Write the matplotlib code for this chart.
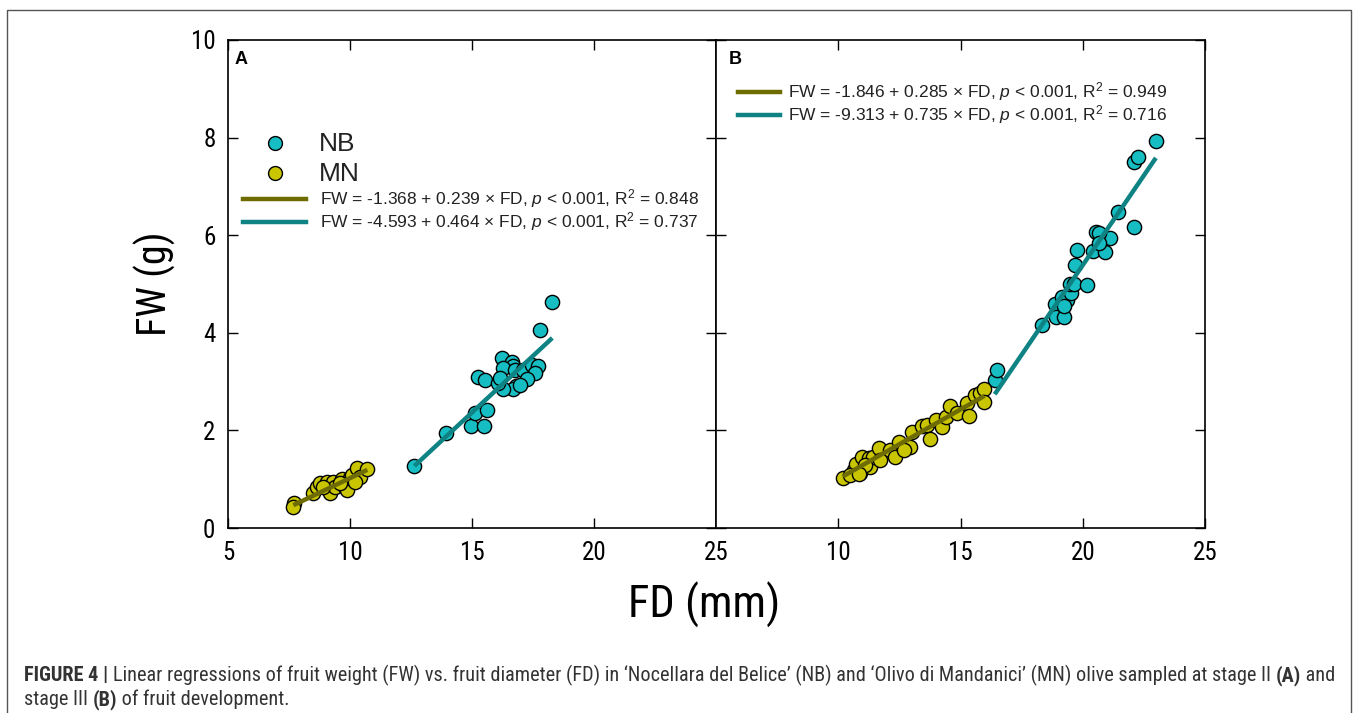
import matplotlib
matplotlib.use("Agg")
import matplotlib.pyplot as plt
from matplotlib import font_manager
from matplotlib.lines import Line2D

# ---------------- data ----------------
# Panel A (stage II)
nb_a_fd = [12.64, 13.92, 14.95, 15.51, 15.14, 15.60, 15.23, 15.53, 16.21, 16.65,
           16.69, 16.28, 16.76, 17.10, 17.44, 17.72, 17.58, 17.24, 16.80, 16.67,
           16.28, 16.08, 16.15, 16.97, 17.79, 18.29]
nb_a_fw = [1.27, 1.94, 2.08, 2.08, 2.36, 2.42, 3.09, 3.03, 3.48, 3.40,
           3.31, 3.27, 3.24, 3.24, 3.34, 3.31, 3.17, 3.05, 2.90, 2.84,
           2.84, 2.97, 3.07, 2.93, 4.06, 4.64]
mn_a_fd = [7.70, 7.68, 8.50, 8.66, 8.77, 9.04, 9.18, 9.32, 9.39, 9.66,
           9.80, 9.86, 10.00, 10.07, 10.27, 10.41, 10.71, 9.59, 8.90, 10.20]
mn_a_fw = [0.52, 0.44, 0.72, 0.85, 0.92, 0.95, 0.72, 0.95, 0.85, 1.00,
           0.85, 0.78, 1.02, 1.09, 1.22, 1.05, 1.21, 0.92, 0.85, 0.95]

# Panel B (stage III)
nb_b_fd = [16.40, 16.50, 18.35, 18.85, 18.93, 18.89, 19.24, 19.17, 19.37, 19.51,
           19.48, 19.64, 20.19, 19.67, 19.78, 20.43, 20.90, 21.12, 20.53, 20.67,
           20.67, 21.45, 22.08, 22.08, 22.27, 22.99, 19.24]
nb_b_fw = [3.03, 3.24, 4.15, 4.60, 4.41, 4.33, 4.32, 4.74, 4.67, 4.82,
           5.01, 5.00, 4.97, 5.39, 5.70, 5.68, 5.66, 5.94, 6.07, 6.05,
           5.83, 6.48, 6.16, 7.49, 7.60, 7.94, 4.54]
mn_b_fd = [10.19, 10.63, 10.74, 10.90, 10.97, 11.24, 11.28, 11.42, 11.65, 11.72,
           12.13, 12.34, 12.47, 12.95, 13.02, 13.43, 13.63, 13.77, 13.98, 14.25,
           14.39, 14.59, 14.86, 15.27, 15.34, 15.61, 15.79, 15.98, 15.98, 10.49,
           11.11, 12.67, 10.85]
mn_b_fw = [1.02, 1.19, 1.31, 1.12, 1.45, 1.43, 1.26, 1.46, 1.63, 1.39,
           1.60, 1.45, 1.77, 1.65, 1.97, 2.09, 2.11, 1.82, 2.21, 2.06,
           2.27, 2.50, 2.35, 2.56, 2.30, 2.73, 2.77, 2.85, 2.59, 1.09,
           1.29, 1.60, 1.11]

# regression coefficients: (intercept, slope, R2)
reg_mn_a = (-1.368, 0.239, 0.848)
reg_nb_a = (-4.593, 0.464, 0.737)
reg_mn_b = (-1.846, 0.285, 0.949)
reg_nb_b = (-9.313, 0.735, 0.716)

x_ticks_a = [5, 10, 15, 20, 25]
x_ticks_b = [10, 15, 20, 25]
y_ticks = [0, 2, 4, 6, 8, 10]
series_labels = ["NB", "MN"]

# ---------------- style ----------------
fl = font_manager.fontManager.ttflist
names = {f.name for f in fl}
REG = "Liberation Sans"
NARROW, NSTRETCH = REG, "normal"
if "Liberation Sans Narrow" in names:
    NARROW, NSTRETCH = "Liberation Sans Narrow", "normal"
elif "Arial Narrow" in names:
    NARROW, NSTRETCH = "Arial Narrow", "normal"
elif "Roboto Condensed" in names:
    NARROW, NSTRETCH = "Roboto Condensed", "normal"
else:
    for fam in ("Liberation Sans", "Noto Sans", "Open Sans", "Roboto", "DejaVu Sans"):
        if any(f.name == fam and str(f.stretch) in ("condensed", "semi-condensed", "500", "600")
               and f.weight in (400, "normal", "regular") for f in fl):
            NARROW, NSTRETCH = fam, "condensed"
            break
HAS_NARROW = not (NARROW == REG and NSTRETCH == "normal")
narrow_fp = dict(family=[NARROW, "DejaVu Sans"], fontstretch=NSTRETCH)

plt.rcParams["font.family"] = [REG, "DejaVu Sans"]
plt.rcParams["mathtext.fontset"] = "custom"
plt.rcParams["mathtext.rm"] = REG
plt.rcParams["mathtext.it"] = REG + ":italic"

C_NB = "#16BEC3"
C_MN = "#C9C500"
C_NB_LINE = "#0F8383"
C_MN_LINE = "#6E6C00"
TXT = "#222222"

W, H = 1358, 713
fig = plt.figure(figsize=(W / 100, H / 100), dpi=100)


def fx(x):
    return x / W


def fy(y):
    return 1 - y / H


axA = fig.add_axes([fx(228), fy(528), fx(716) - fx(228), fy(40) - fy(528)])
axB = fig.add_axes([fx(716), fy(528), fx(1205) - fx(716), fy(40) - fy(528)])


def eq(c):
    return (f"FW = {c[0]:.3f} + {c[1]:.3f} × FD, $\\mathit{{p}}$ < 0.001, "
            f"R$^{{2}}$ = {c[2]:.3f}")


def reg_line(ax, xs, c, color):
    x0, x1 = min(xs), max(xs)
    ax.plot([x0, x1], [c[0] + c[1] * x0, c[0] + c[1] * x1], color=color,
            lw=3.2, solid_capstyle="butt", zorder=3)


tick_size = 18 if HAS_NARROW else 16
for ax, nbx, nby, mnx, mny, rmn, rnb in [
        (axA, nb_a_fd, nb_a_fw, mn_a_fd, mn_a_fw, reg_mn_a, reg_nb_a),
        (axB, nb_b_fd, nb_b_fw, mn_b_fd, mn_b_fw, reg_mn_b, reg_nb_b)]:
    ax.scatter(nbx, nby, s=105, c=C_NB, edgecolors="black", linewidths=1.0, zorder=2)
    ax.scatter(mnx, mny, s=105, c=C_MN, edgecolors="black", linewidths=1.0, zorder=2)
    reg_line(ax, mnx, rmn, C_MN_LINE)
    reg_line(ax, nbx, rnb, C_NB_LINE)
    ax.set_xlim(5, 25)
    ax.set_ylim(0, 10)
    ax.set_yticks(y_ticks)
    ax.tick_params(direction="in", length=7, width=1, top=True, right=True,
                   labelsize=tick_size, pad=9, colors="black")
    for sp in ax.spines.values():
        sp.set_linewidth(1.2)

axA.set_xticks(x_ticks_a)
axB.set_xticks(x_ticks_b)
axB.tick_params(labelleft=False)
for ax in (axA, axB):
    for lab in ax.get_xticklabels() + ax.get_yticklabels():
        lab.set_family(narrow_fp["family"])
        lab.set_fontstretch(NSTRETCH)

# panel letters
fig.text(fx(235), fy(60), "A", fontsize=13, fontweight="bold", va="center", ha="left")
fig.text(fx(729), fy(60), "B", fontsize=13, fontweight="bold", va="center", ha="left")

# legend panel A
fig.add_artist(Line2D([fx(275)], [fy(143)], marker="o", ms=10, mfc=C_NB, mec="black",
                      mew=1.0, transform=fig.transFigure))
fig.add_artist(Line2D([fx(275)], [fy(173)], marker="o", ms=10, mfc=C_MN, mec="black",
                      mew=1.0, transform=fig.transFigure))
fig.text(fx(319), fy(144), series_labels[0], fontsize=19, va="center", ha="left", color=TXT)
fig.text(fx(319), fy(174), series_labels[1], fontsize=19, va="center", ha="left", color=TXT)
for yy, col, c in [(199, C_MN_LINE, reg_mn_a), (222, C_NB_LINE, reg_nb_a)]:
    fig.add_artist(Line2D([fx(243), fx(306)], [fy(yy), fy(yy)], color=col, lw=3.2,
                          transform=fig.transFigure))
    fig.text(fx(320), fy(yy), eq(c), fontsize=12.5, va="center", ha="left", color=TXT)

# legend panel B
for yy, col, c in [(92, C_MN_LINE, reg_mn_b), (115, C_NB_LINE, reg_nb_b)]:
    fig.add_artist(Line2D([fx(738), fx(780)], [fy(yy), fy(yy)], color=col, lw=3.2,
                          transform=fig.transFigure))
    fig.text(fx(788), fy(yy), eq(c), fontsize=12.5, va="center", ha="left", color=TXT)

# axis titles
fig.text(fx(155), fy(284), "FW (g)", fontsize=(29 if HAS_NARROW else 26), rotation=90,
         va="center", ha="center", **narrow_fp)
fig.text(fx(704), fy(605), "FD (mm)", fontsize=(32 if HAS_NARROW else 27), va="center",
         ha="center", **narrow_fp)

# outer frame
fig.add_artist(Line2D([fx(7), fx(7), fx(1351), fx(1351)], [fy(716), fy(10), fy(10), fy(716)],
                      color="#555555", lw=1.0, transform=fig.transFigure))

# caption with mixed weights
renderer = fig.canvas.get_renderer()


def runs(x, y, parts, size):
    for txt, wt in parts:
        t = fig.text(fx(x), fy(y), txt, fontsize=size, fontweight=wt, va="baseline",
                     ha="left", color="#333333", **narrow_fp)
        bb = t.get_window_extent(renderer=renderer)
        x += bb.width


cap_size = 14.6 if HAS_NARROW else 12.8
runs(24, 681, [("FIGURE 4 ", "bold"), ("| ", "bold"),
               ("Linear regressions of fruit weight (FW) vs. fruit diameter (FD) in "
                "\u2018Nocellara del Belice\u2019 (NB) and \u2018Olivo di Mandanici\u2019 (MN) "
                "olive sampled at stage II ", "normal"), ("(A)", "bold"), (" and", "normal")],
     size=cap_size)
runs(24, 705, [("stage III ", "normal"), ("(B)", "bold"), (" of fruit development.", "normal")],
     size=cap_size)

fig.savefig("out.png", dpi=100)
